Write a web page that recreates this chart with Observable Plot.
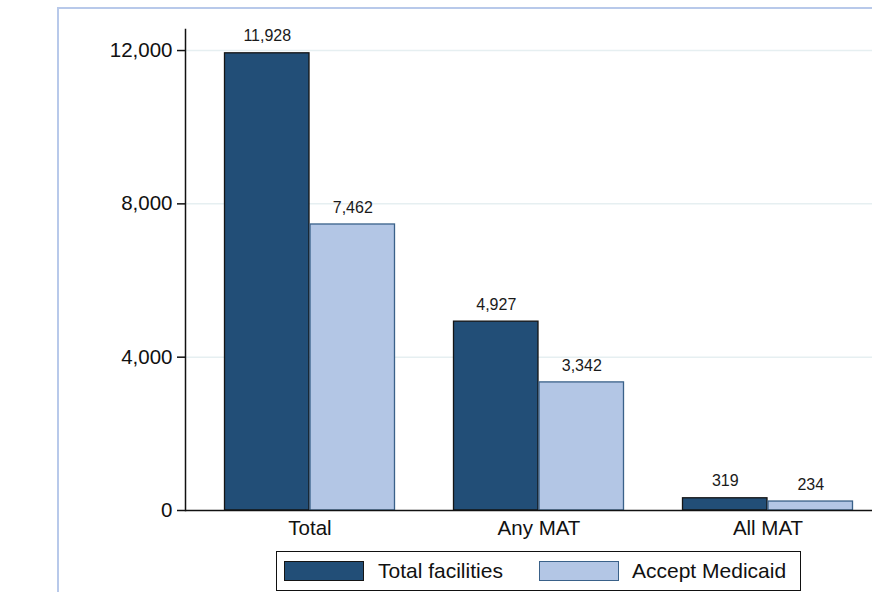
<!DOCTYPE html>
<html>
<head>
<meta charset="utf-8">
<script src="https://cdn.jsdelivr.net/npm/d3@7"></script>
<script src="https://cdn.jsdelivr.net/npm/@observablehq/plot@0.6"></script>
<style>
  html, body { margin: 0; padding: 0; overflow: hidden; background: #fff; width: 872px; height: 592px; }
  body { position: relative; font-family: "Liberation Sans", Arial, sans-serif; }
  #frame { position: absolute; left: 57px; top: 7px; width: 900px; height: 700px; border: 2px solid #b8c9ea; box-sizing: border-box; }
  #chart { position: absolute; left: 0; top: 0; width: 910px; }
  #chart svg { max-width: none !important; }
  #legend { position: absolute; left: 276px; top: 551px; width: 525px; height: 40px; border: 1.5px solid #111; box-sizing: border-box; background: #fff; }
  .sw { position: absolute; top: 9px; width: 80px; height: 20px; box-sizing: border-box; }
  .lt { position: absolute; top: 8px; font-size: 21px; line-height: 22px; color: #111; white-space: nowrap; }
</style>
</head>
<body>
<div id="frame"></div>
<div id="chart"></div>
<div id="legend"></div>
<script>
const categories = ["Total", "Any MAT", "All MAT"];
const seriesNames = ["Total facilities", "Accept Medicaid"];
const totalFacilities = [11928, 4927, 319];
const acceptMedicaid = [7462, 3342, 234];
const yTicks = [0, 4000, 8000, 12000];
const gridTicks = [4000, 8000, 12000];

const colors = { "Total facilities": "#224e77", "Accept Medicaid": "#b3c6e5" };
const strokes = { "Total facilities": "#151515", "Accept Medicaid": "#3a6189" };

const rows = (vals, s) => categories.map((c, i) => ({ category: c, series: s, value: vals[i] }));
const dataTotal = rows(totalFacilities, seriesNames[0]);
const dataMedicaid = rows(acceptMedicaid, seriesNames[1]);

const fmt = d3.format(",");
const half = 85.5; // half of the category band (bar width)

const plot = Plot.plot({
  width: 910,
  height: 545,
  marginLeft: 185,
  marginRight: 18,
  marginTop: 29,
  marginBottom: 35,
  style: { fontFamily: "Liberation Sans, Arial, sans-serif", color: "#111", background: "transparent", overflow: "visible", maxWidth: "none" },
  x: { domain: categories, paddingInner: 0.2533, paddingOuter: 0.17, label: null },
  y: { domain: [0, 12549], label: null },
  marks: [
    Plot.ruleY(gridTicks, { stroke: "#e6eff1", strokeWidth: 1.5 }),
    Plot.barY(dataTotal, { x: "category", y: "value", fill: colors[seriesNames[0]], stroke: strokes[seriesNames[0]], strokeWidth: 1.3, insetLeft: 0.5, insetRight: half + 0.5 }),
    Plot.barY(dataMedicaid, { x: "category", y: "value", fill: colors[seriesNames[1]], stroke: strokes[seriesNames[1]], strokeWidth: 1.3, insetLeft: half + 0.5, insetRight: 0.5 }),
    Plot.text(dataTotal, { x: "category", y: "value", text: d => fmt(d.value), dx: -half / 2, dy: -17, fontSize: 16, fill: "#1a1a1a" }),
    Plot.text(dataMedicaid, { x: "category", y: "value", text: d => fmt(d.value), dx: half / 2, dy: -17, fontSize: 16, fill: "#1a1a1a" }),
    Plot.ruleY([0], { stroke: "#111", strokeWidth: 1.5 }),
    Plot.frame({ anchor: "left", stroke: "#111", strokeWidth: 1.5 }),
    Plot.axisY(yTicks, { anchor: "left", tickFormat: fmt, tickSize: 8, tickPadding: 5, fontSize: 20.5, label: null, stroke: "#111", strokeWidth: 1.5 }),
    Plot.axisX({ anchor: "bottom", tickSize: 0, tickPadding: 9.5, fontSize: 20.5, label: null })
  ]
});
document.getElementById("chart").appendChild(plot);

const legend = document.getElementById("legend");
const swX = [7, 262];
const txX = [101, 355];
seriesNames.forEach((s, i) => {
  const sw = document.createElement("div");
  sw.className = "sw";
  sw.style.left = swX[i] + "px";
  sw.style.background = colors[s];
  sw.style.border = "1.5px solid " + strokes[s];
  legend.appendChild(sw);
  const t = document.createElement("div");
  t.className = "lt";
  t.style.left = txX[i] + "px";
  t.textContent = s;
  legend.appendChild(t);
});
</script>
</body>
</html>
